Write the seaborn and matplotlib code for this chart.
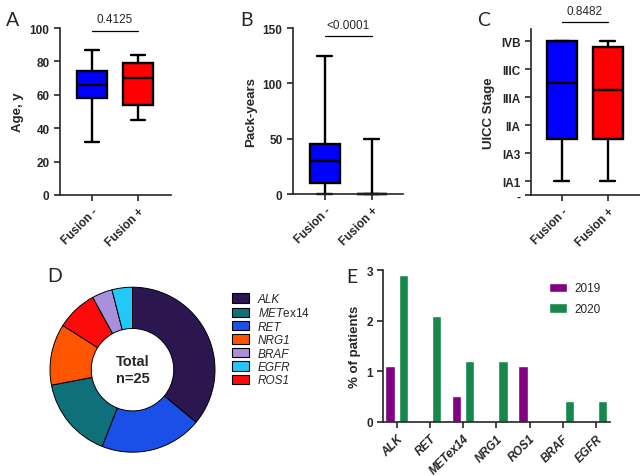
import numpy as np
import pandas as pd
import seaborn as sns
import matplotlib.pyplot as plt
from matplotlib.patches import Patch

sns.set_theme(style='ticks')
plt.rcParams['font.family'] = ['Liberation Sans', 'DejaVu Sans']
plt.rcParams.update({
    'font.weight': 'bold',
    'axes.labelweight': 'bold',
    'axes.linewidth': 1.2,
    'xtick.major.width': 1.2,
    'ytick.major.width': 1.2,
    'xtick.major.size': 4,
    'ytick.major.size': 4,
    'xtick.labelsize': 8.5,
    'ytick.labelsize': 8.5,
    'axes.labelsize': 9.5,
    'mathtext.fontset': 'custom',
    'mathtext.rm': 'Liberation Sans:normal',
    'mathtext.it': 'Liberation Sans:italic:normal',
})

# data
groups = ['Fusion -', 'Fusion +']
# five-number summaries: min, q1, median, q3, max
age_neg = [32, 58, 66, 74, 87]
age_pos = [45, 54, 70, 79, 84]
pack_neg = [0, 10, 30, 45, 125]
pack_pos = [0, 0, 0, 0, 50]
stage_neg = [1, 4, 8, 11, 11]
stage_pos = [1, 4, 7.5, 10.6, 11]
stage_ticks = [0, 1, 3, 5, 7, 9, 11]
stage_labels = ['-', 'IA1', 'IA3', 'IIA', 'IIIA', 'IIIC', 'IVB']
p_values = ['0.4125', '<0.0001', '0.8482']

genes = ['ALK', 'METex14', 'RET', 'NRG1', 'BRAF', 'EGFR', 'ROS1']
gene_counts = [9, 4, 5, 3, 1, 1, 2]
gene_colors = ['#2b1650', '#10707a', '#1a4fe8', '#ff5500', '#a890dc', '#22c8f8', '#ff0a0a']
pie_order = ['ALK', 'RET', 'METex14', 'NRG1', 'ROS1', 'BRAF', 'EGFR']

bar_genes = ['ALK', 'RET', 'METex14', 'NRG1', 'ROS1', 'BRAF', 'EGFR']
pct_2019 = [1.1, 0, 0.5, 0, 1.1, 0, 0]
pct_2020 = [2.9, 2.1, 1.2, 1.2, 0, 0.4, 0.4]
years = ['2019', '2020']
year_colors = ['#820082', '#17874a']

W, H = 640, 477


def px(l, t, r, b):
    return [l / W, 1 - b / H, (r - l) / W, (b - t) / H]


fig = plt.figure(figsize=(6.4, 4.77), dpi=100)


def box_panel(rect, neg, pos, ylabel, ylim, xlim):
    ax = fig.add_axes(rect)
    df = pd.DataFrame({'group': np.repeat(groups, 5), 'value': neg + pos})
    sns.boxplot(data=df, x='group', y='value', hue='group',
                palette=['#0000ff', '#ff0000'], saturation=1, whis=(0, 100),
                width=0.64, linecolor='black', linewidth=1.7, legend=False, ax=ax)
    ax.set_xlim(*xlim)
    ax.set_ylim(*ylim)
    ax.set_xlabel('')
    ax.set_ylabel(ylabel)
    sns.despine(ax=ax)
    plt.setp(ax.get_xticklabels(), rotation=45, ha='right', rotation_mode='anchor')
    for art in ax.lines + ax.patches:
        art.set_clip_on(False)
    return ax


def sig(ax, y_line, y_text, text):
    ax.plot([0, 1], [y_line, y_line], color='black', lw=0.9, clip_on=False)
    ax.text(0.5, y_text, text, ha='center', va='center', fontsize=8.5, fontweight='normal')


# A
axA = box_panel(px(60, 29, 171, 196), age_neg, age_pos, 'Age, y', (0, 100), (-0.7, 1.72))
axA.set_yticks([0, 20, 40, 60, 80, 100])
sig(axA, 98.4, 105.6, p_values[0])

# B
axB = box_panel(px(293, 29, 403, 195), pack_neg, pack_pos, 'Pack-years', (0, 150), (-0.68, 1.66))
axB.set_yticks([0, 50, 100, 150])
sig(axB, 142.8, 152.7, p_values[1])

# C
axC = box_panel(px(531, 30, 640, 196), stage_neg, stage_pos, 'UICC Stage', (0, 11.86), (-0.67, 1.7))
axC.set_yticks(stage_ticks)
axC.set_yticklabels(stage_labels)
sig(axC, 12.36, 13.14, p_values[2])

# D donut
axD = fig.add_axes(px(132.5 - 90, 370.7 - 90, 132.5 + 90, 370.7 + 90))
order_idx = [genes.index(g) for g in pie_order]
axD.pie([gene_counts[i] for i in order_idx], colors=[gene_colors[i] for i in order_idx],
        startangle=90, counterclock=False, radius=1,
        wedgeprops=dict(width=0.5, edgecolor='black', linewidth=0.7))
axD.set_xlim(-90 / 82.5, 90 / 82.5)
axD.set_ylim(-90 / 82.5, 90 / 82.5)
axD.set_aspect('equal')
axD.text(0, 0, 'Total\nn=25', ha='center', va='center', fontsize=10.5, fontweight='bold',
         linespacing=1.3)
handles = [Patch(facecolor=c, edgecolor='black', linewidth=0.8) for c in gene_colors]
# only the gene part of METex14 is italic
leg_labels = ['$\\mathit{MET}$ex14' if g == 'METex14' else g for g in genes]
legD = fig.legend(handles, leg_labels, loc='upper left',
                  bbox_to_anchor=(232 / W, 1 - 294 / H),
                  frameon=False, borderpad=0, borderaxespad=0, handlelength=1.4, handleheight=0.85,
                  handletextpad=0.8, labelspacing=0.12, prop={'size': 8.5, 'weight': 'normal'})
for t, g in zip(legD.get_texts(), genes):
    if g != 'METex14':
        t.set_fontstyle('italic')

# E bars
axE = fig.add_axes(px(383.3, 271, 610, 422.7))
dfE = pd.DataFrame({'gene': bar_genes * 2,
                    'year': np.repeat(years, len(bar_genes)),
                    'pct': pct_2019 + pct_2020})
sns.barplot(data=dfE, x='gene', y='pct', hue='year', palette=year_colors, saturation=1,
            width=0.8, gap=0.3, ax=axE)
axE.set_xlim(-0.4, 6.42)
axE.set_ylim(0, 3)
axE.set_yticks([0, 1, 2, 3])
axE.set_xlabel('')
axE.set_ylabel('% of patients')
sns.despine(ax=axE)
plt.setp(axE.get_xticklabels(), rotation=45, ha='right', rotation_mode='anchor',
         fontstyle='italic')
axE.legend(loc='upper left', bbox_to_anchor=((549 - 383.3) / (610 - 383.3), (422.7 - 283.5) / (422.7 - 271)),
           frameon=False, borderpad=0, borderaxespad=0, handlelength=1.55, handleheight=0.9,
           handletextpad=0.6, labelspacing=0.75, prop={'size': 8.5, 'weight': 'normal'})

# panel letters
for letter, (x, y) in zip('ABCDE', [(12.5, 20), (246, 20), (483.5, 20), (54.5, 277), (352, 278)]):
    fig.text(x / W, 1 - y / H, letter, ha='center', va='center', fontsize=14,
             fontweight='normal', family=['Lato', 'DejaVu Sans'])

fig.savefig('out.png', dpi=100)
